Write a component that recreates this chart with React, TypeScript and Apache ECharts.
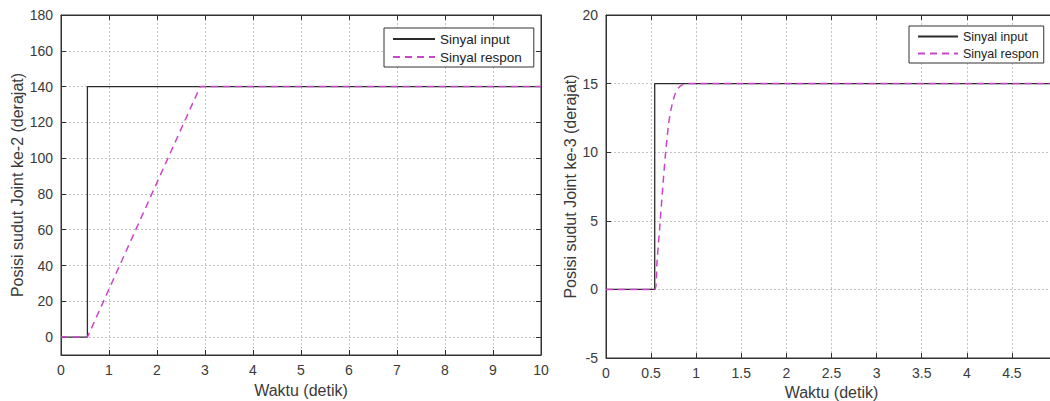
import React, { useEffect, useRef } from "react";
import * as echarts from "echarts";

// Left chart (Joint ke-2)
const leftInputT = [0, 0.55, 0.55, 10];
const leftInputV = [0, 0, 140, 140];
const leftResponT = [0, 0.55, 2.9, 10];
const leftResponV = [0, 0, 140, 140];
const leftYTicks = [0, 20, 40, 60, 80, 100, 120, 140, 160, 180];

// Right chart (Joint ke-3)
const rightInputT = [0, 0.54, 0.54, 5];
const rightInputV = [0, 0, 15, 15];
const rightResponT = [0, 0.54, 0.565, 0.6, 0.63, 0.66, 0.695, 0.73, 0.77, 0.82, 0.9, 5];
const rightResponV = [0, 0, 2, 4.9, 7.5, 9.9, 12.1, 13.4, 14.3, 14.8, 15, 15];

const seriesNames = ["Sinyal input", "Sinyal respon"];
const xTitle = "Waktu (detik)";
const leftYTitle = "Posisi sudut Joint ke-2 (derajat)";
const rightYTitle = "Posisi sudut Joint ke-3 (derajat)";

const FONT = "Liberation Sans, Arial, sans-serif";
const TEXT = "#3a3a3a";
const FRAME = "#333";
const GRID = "#c4c4c4";
const INPUT_COLOR = "#2b2b2b";
const RESPON_COLOR = "#cc44cc";

const zip = (t: number[], v: number[]) => t.map((x, i) => [x, v[i]]);

function mainX(grid: number, min: number, max: number, interval: number, gap: number, showMax: boolean) {
  return {
    type: "value", gridIndex: grid, min, max, interval, position: "bottom",
    name: xTitle, nameLocation: "middle", nameGap: gap,
    nameTextStyle: { color: TEXT, fontSize: 16, fontFamily: FONT },
    axisLine: { show: true, onZero: false, lineStyle: { color: FRAME, width: 1 } },
    axisTick: { show: true, inside: true, length: 5, lineStyle: { color: FRAME } },
    axisLabel: { color: TEXT, fontSize: 14, fontFamily: FONT, margin: 8, showMaxLabel: showMax },
    splitLine: { show: true, lineStyle: { color: GRID, type: [2, 2], width: 1 } },
  };
}
function sideX(grid: number, min: number, max: number, interval: number) {
  return {
    type: "value", gridIndex: grid, min, max, interval, position: "top",
    axisLine: { show: true, onZero: false, lineStyle: { color: FRAME, width: 1 } },
    axisTick: { show: true, inside: true, length: 5, lineStyle: { color: FRAME } },
    axisLabel: { show: false },
    splitLine: { show: false },
  };
}
function mainY(grid: number, min: number, max: number, ticks: number[] | null, interval: number, title: string, gap: number) {
  const ax: any = {
    type: "value", gridIndex: grid, min, max, position: "left",
    name: title, nameLocation: "middle", nameGap: gap, nameRotate: 90,
    nameTextStyle: { color: TEXT, fontSize: 16, fontFamily: FONT },
    axisLine: { show: true, onZero: false, lineStyle: { color: FRAME, width: 1 } },
    axisTick: { show: true, inside: true, length: 5, lineStyle: { color: FRAME } },
    axisLabel: { color: TEXT, fontSize: 14, fontFamily: FONT, margin: 8 },
    splitLine: { show: true, lineStyle: { color: GRID, type: [2, 2], width: 1 } },
  };
  if (ticks) {
    ax.axisTick.customValues = ticks;
    ax.axisLabel.customValues = ticks;
  } else {
    ax.interval = interval;
  }
  return ax;
}
function sideY(grid: number, min: number, max: number, ticks: number[] | null, interval: number) {
  const ax: any = {
    type: "value", gridIndex: grid, min, max, position: "right",
    axisLine: { show: true, onZero: false, lineStyle: { color: FRAME, width: 1 } },
    axisTick: { show: true, inside: true, length: 5, lineStyle: { color: FRAME } },
    axisLabel: { show: false },
    splitLine: { show: false },
  };
  if (ticks) {
    ax.axisTick.customValues = ticks;
  } else {
    ax.interval = interval;
  }
  return ax;
}

function legend(left: number, top: number, itemWidth: number, fontSize: number, pad: number[]) {
  return {
    left, top, orient: "vertical",
    itemWidth, itemHeight: 14, itemGap: 4,
    padding: pad,
    borderColor: FRAME, borderWidth: 1, backgroundColor: "#fff",
    textStyle: { color: "#222", fontSize, fontFamily: FONT },
    itemStyle: { color: "transparent", borderColor: "transparent", borderWidth: 0, opacity: 0 },
    data: seriesNames,
    selectedMode: false,
  };
}

export default function App() {
  const ref = useRef<HTMLDivElement>(null);
  useEffect(() => {
    document.body.style.margin = "0";
    const chart = echarts.init(ref.current!, null, { renderer: "svg" });
    const option = {
      animation: false,
      backgroundColor: "#fff",
      grid: [
        { left: 61, top: 15, width: 480, height: 340, show: true, borderColor: FRAME, borderWidth: 1, outerBoundsMode: "none", containLabel: false },
        { left: 606, top: 15, width: 451, height: 343, show: true, borderColor: FRAME, borderWidth: 1, outerBoundsMode: "none", containLabel: false },
      ],
      xAxis: [mainX(0, 0, 10, 1, 27, true), sideX(0, 0, 10, 1), mainX(1, 0, 5, 0.5, 23, false), sideX(1, 0, 5, 0.5)],
      yAxis: [
        mainY(0, -10, 180, leftYTicks, 20, leftYTitle, 33), sideY(0, -10, 180, leftYTicks, 20),
        mainY(1, -5, 20, null, 5, rightYTitle, 26), sideY(1, -5, 20, null, 5),
      ],
      legend: [legend(384, 28, 42, 13.5, [4, 12, 3, 8]), legend(909, 26, 40, 12.5, [4, 5, 3, 8])],
      series: [
        { name: seriesNames[0], type: "line", xAxisIndex: 0, yAxisIndex: 0, data: zip(leftInputT, leftInputV), symbol: "none", lineStyle: { color: INPUT_COLOR, width: 1.3 }, itemStyle: { color: INPUT_COLOR } },
        { name: seriesNames[1], type: "line", xAxisIndex: 0, yAxisIndex: 0, data: zip(leftResponT, leftResponV), symbol: "none", lineStyle: { color: RESPON_COLOR, width: 1.5, type: [7, 5] }, itemStyle: { color: RESPON_COLOR } },
        { name: seriesNames[0], type: "line", xAxisIndex: 2, yAxisIndex: 2, data: zip(rightInputT, rightInputV), symbol: "none", lineStyle: { color: INPUT_COLOR, width: 1.3 }, itemStyle: { color: INPUT_COLOR } },
        { name: seriesNames[1], type: "line", xAxisIndex: 2, yAxisIndex: 2, data: zip(rightResponT, rightResponV), symbol: "none", smooth: 0.3, lineStyle: { color: RESPON_COLOR, width: 1.5, type: [7, 5] }, itemStyle: { color: RESPON_COLOR } },
      ],
    };
    chart.setOption(option as any);
    return () => chart.dispose();
  }, []);
  return <div ref={ref} style={{ width: 1050, height: 401 }} />;
}
